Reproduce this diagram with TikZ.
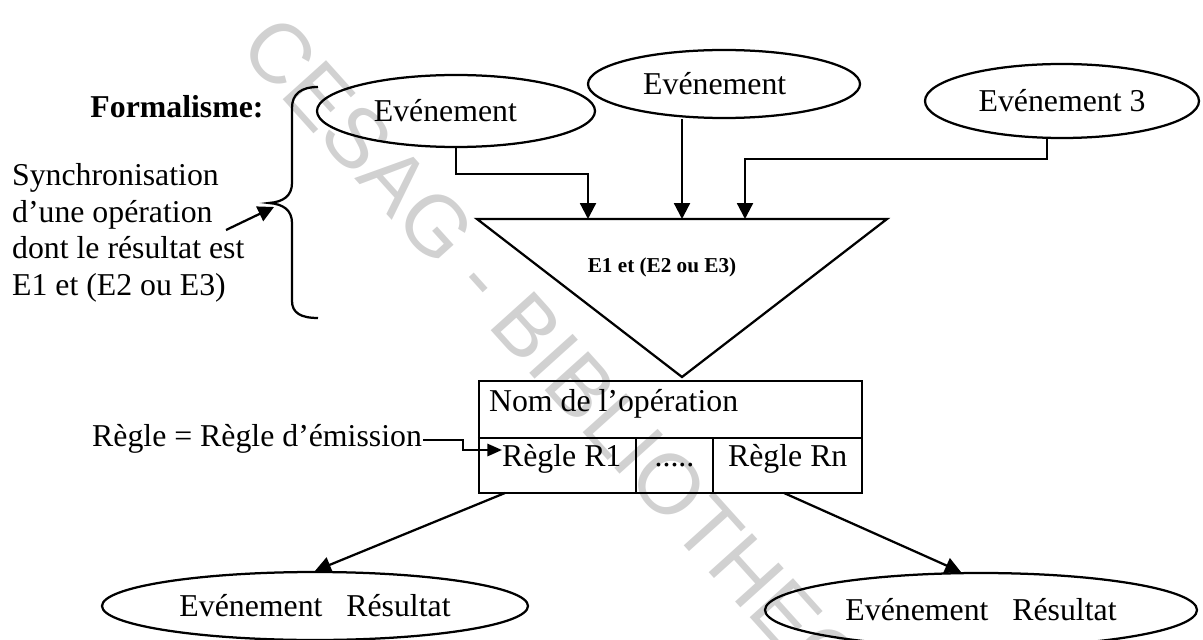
\documentclass[tikz,border=0pt]{standalone}
\usepackage{fontspec}
\setmainfont{Liberation Serif}
\newfontfamily\wmfont{Liberation Sans}
\usetikzlibrary{arrows.meta,shapes.geometric}
\begin{document}
\begin{tikzpicture}[x=0.3774pt,y=-0.3774pt,
  line width=0.85pt,
  txt/.style={inner sep=0pt, font=\fontsize{12}{13.8}\selectfont},
  evt/.style={draw, ellipse, inner sep=0pt, font=\fontsize{12}{13.8}\selectfont},
  arr/.style={-{Triangle[length=6pt,width=6pt]}},
  smallarr/.style={-{Triangle[length=5.5pt,width=4.6pt]}},
]
\useasboundingbox (0,0) rectangle (1203,640);

% watermark behind the drawing
\node[rotate=-48, text=black!18, inner sep=0pt,
      font=\wmfont\fontsize{32}{32}\selectfont] (wm) at (588,406) {CESAG - BIBLIOTHEQUE};

% left-hand legend
\node[txt, font=\bfseries\fontsize{12}{13.8}\selectfont] (form) at (177,107) {Formalisme:};
\node[txt, align=left, anchor=west] (syn) at (11,233)
  {Synchronisation\\d'une opération\\dont le résultat est\\E1 et (E2 ou E3)};
\draw (318,87) .. controls (301,87) and (292,94) .. (292,108) -- (292,183)
  .. controls (292,196) and (283,202) .. (269,203)
  .. controls (283,204) and (292,210) .. (292,223) -- (292,301)
  .. controls (292,313) and (301,318) .. (318,318);
\coordinate (bt) at (274,207);
\coordinate (sa) at (226,230);
\draw[arr] (sa) -- (bt);

% events
\node[evt, minimum width=278*0.3774pt, minimum height=72*0.3774pt] (E1) at (456,111)
  {Evénement\hspace*{8pt}};
\node[evt, minimum width=272*0.3774pt, minimum height=68*0.3774pt] (E2) at (724,84)
  {Evénement\hspace*{7pt}};
\node[evt, minimum width=274*0.3774pt, minimum height=74*0.3774pt] (E3) at (1062,101)
  {Evénement 3};

% synchronisation triangle
\coordinate (tl) at (477,219);
\coordinate (tr) at (887,219);
\coordinate (tp) at (682,377);
\draw (tl) -- (tr) -- (tp) -- cycle;
\node[txt, font=\bfseries\fontsize{8}{9}\selectfont] (cond) at (662,267) {E1 et (E2 ou E3)};

% incoming connectors
\coordinate (t1) at (588,219);
\coordinate (t2) at (682,219);
\coordinate (t3) at (745,219);
\draw[arr] (E1.south) -- ++(0,26) -| (t1);
\draw[arr] (E2.south -| t2) -- (t2);
\coordinate (k3) at (1047,159);
\draw[arr] (E3.south -| k3) -- (k3) -| (t3);

% operation box
\node[draw, inner sep=0pt, minimum width=383*0.3774pt, minimum height=112*0.3774pt] (box) at (670.5,437) {};
\coordinate (mid) at (479,438);
\coordinate (d1) at (636,438);
\coordinate (d2) at (713,438);
\draw (box.west |- mid) -- (box.east |- mid);
\draw (d1) -- (d1 |- box.south);
\draw (d2) -- (d2 |- box.south);
\node[txt, anchor=base west] (nom) at (488,411) {Nom de l'opération};
\node[txt, anchor=base west] (r1) at (501,466) {Règle R1};
\node[txt, anchor=base] (dots) at (674.5,466) {.....};
\node[txt, anchor=base west] (rn) at (727,466) {Règle Rn};

% emission rule label
\node[txt, anchor=base east] (rule) at (423,446) {Règle = Règle d'émission};
\coordinate (q1) at (463,440);
\coordinate (q2) at (502,450);
\draw[smallarr] (rule.east |- q1) -- (q1) |- (q2);

% result events
\node[evt, minimum width=426*0.3774pt, minimum height=68*0.3774pt] (L) at (315,606)
  {Evénement\ \ \ Résultat};
\node[evt, minimum width=432*0.3774pt, minimum height=74*0.3774pt] (R) at (981,610)
  {Evénement\ \ \ Résultat};
\coordinate (b1) at (505,493);
\coordinate (b2) at (784,493);
\coordinate (rt) at (961,572);
\draw[arr] (b1) -- (L.north);
\draw[arr] (b2) -- (rt);
\end{tikzpicture}
\end{document}
